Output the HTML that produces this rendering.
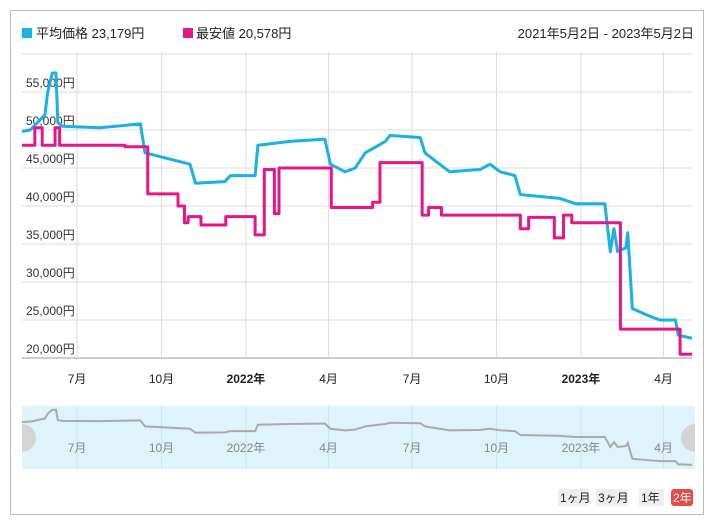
<!DOCTYPE html>
<html><head><meta charset="utf-8"><style>
body{margin:0;background:#fff;width:715px;height:525px;overflow:hidden;font-family:"Liberation Sans","Noto Sans CJK JP",sans-serif}
svg text{font-family:"Liberation Sans","Noto Sans CJK JP",sans-serif}
</style></head><body>
<svg id="c" width="715" height="525">
<rect x="10.5" y="10.5" width="693" height="504" fill="#fff" stroke="#bbb"/>
<rect x="22" y="28" width="10" height="10" fill="#1ab0e8"/>
<text x="36" y="38" font-size="13" fill="#222">平均価格 23,179円</text>
<rect x="183" y="28" width="10" height="10" fill="#e6168a"/>
<text x="196" y="38" font-size="13" fill="#222">最安値 20,578円</text>
<text x="694" y="38" font-size="13" fill="#222" text-anchor="end">2021年5月2日 - 2023年5月2日</text>
<g id="grid"></g><g id="series"></g><g id="nav"></g>
<g>
<rect x="558" y="489" width="30" height="17" fill="#eee"/><text x="560" y="502" font-size="12" fill="#222">1ヶ月</text>
<rect x="596" y="489" width="32" height="17" fill="#eee"/><text x="598" y="502" font-size="12" fill="#222">3ヶ月</text>
<rect x="639" y="489" width="25" height="17" fill="#eee"/><text x="641" y="502" font-size="12" fill="#222">1年</text>
<rect x="671" y="489" width="22" height="17" rx="3" fill="#e84a4a"/><text x="673" y="502" font-size="12" fill="#fff">2年</text>
</g>
</svg>
<script>
const yTicks=[20000,25000,30000,35000,40000,45000,50000,55000,60000];
const xTickDays=[60,152,244,334,425,517,609,699];
const xTickLabels=["7月","10月","2022年","4月","7月","10月","2023年","4月"];
const xTickBold=[false,false,true,false,false,false,true,false];
const avgDays=[0,9,25,28,33,37,39,44,85,129,134,150,167,183,189,221,227,254,257,292,330,336,352,363,374,396,401,434,439,455,466,499,510,521,537,543,586,603,635,641,645,649,658,660,665,684,695,712,715,730];
const avgVals=[49800,50000,52000,55000,57500,57500,51000,50500,50300,50800,47000,46500,46000,45500,43000,43200,44000,44000,48000,48500,48800,45500,44500,45000,47000,48500,49300,49000,47000,45500,44500,44800,45500,44500,44000,41500,41000,40300,40300,34000,37000,34000,34500,36500,26500,25500,25000,25000,23000,22600];
const minDays=[0,14,22,36,41,112,137,170,177,181,195,222,254,264,275,280,337,382,390,436,443,457,543,552,580,590,599,652,717,730];
const minVals=[48000,50300,48000,50300,48000,47800,41600,40000,37800,38600,37500,38600,36200,44800,39000,45000,39800,40500,45700,38800,39800,38800,37000,38500,35800,38800,37800,23800,20500,20500];
const NS="http://www.w3.org/2000/svg";
const X0=22,X1=692,TOTAL=730;
const xs=d=>X0+d*(X1-X0)/TOTAL;
const ys=v=>358-(v-20000)*38/5000;
const nys=v=>469-(v-20000)*60/38000;
function mk(t,a,p){const e=document.createElementNS(NS,t);for(const k in a)e.setAttribute(k,a[k]);p.appendChild(e);return e;}
const grid=document.getElementById('grid'),ser=document.getElementById('series'),nav=document.getElementById('nav');
yTicks.forEach((v,i)=>{
 const l=mk('line',{x1:X0,x2:X1,y1:ys(v),y2:ys(v),stroke:v===20000?'#999':'#ddd'},grid);
 
 
 if(v<60000){const t=mk('text',{x:26,y:ys(v)-5,'font-size':12,fill:'#333'},grid);t.textContent=v.toLocaleString('en-US')+'円';
 
 }
});
xTickDays.forEach((d,i)=>{
 const l=mk('line',{x1:xs(d),x2:xs(d),y1:52,y2:358,stroke:'#ddd'},grid);
 
 
 const t=mk('text',{x:xs(d),y:383,'font-size':12,'text-anchor':'middle',fill:'#222','font-weight':xTickBold[i]?'bold':'normal'},grid);t.textContent=xTickLabels[i];
 
 
});
function linePts(ds,vs,f){return ds.map((d,i)=>xs(d)+','+f(vs[i])).join(' ');}
function stepPts(ds,vs){let p=[];ds.forEach((d,i)=>{if(i>0)p.push(xs(d)+','+ys(vs[i-1]));p.push(xs(d)+','+ys(vs[i]));});return p.join(' ');}
const avg=mk('polyline',{points:linePts(avgDays,avgVals,ys),fill:'none',stroke:'#1ab0e8','stroke-width':3,'stroke-linejoin':'round'},ser);


const mn=mk('polyline',{points:stepPts(minDays,minVals),fill:'none',stroke:'#e6168a','stroke-width':3,'stroke-linejoin':'round'},ser);


const band=mk('rect',{x:X0,y:406,width:X1-X0+3,height:63,fill:'#dff3fb'},nav);


xTickDays.forEach((d,i)=>{
 mk('line',{x1:xs(d),x2:xs(d),y1:406,y2:469,stroke:'#cfe3ea'},nav);
 const t=mk('text',{x:xs(d),y:452,'font-size':12,'text-anchor':'middle',fill:'#888'},nav);t.textContent=xTickLabels[i];
 
 
});
const nl=mk('polyline',{points:linePts(avgDays,avgVals,nys),fill:'none',stroke:'#aaa','stroke-width':2},nav);


const h1=mk('path',{d:'M22,424 a14,14 0 0 1 0,28 z',fill:'#d4d4d4'},nav);


const h2=mk('path',{d:'M695,424 a14,14 0 0 0 0,28 z',fill:'#d4d4d4'},nav);


</script>
</body></html>
